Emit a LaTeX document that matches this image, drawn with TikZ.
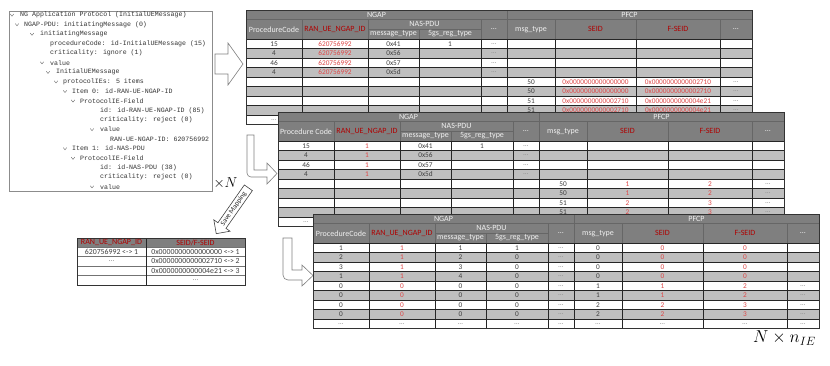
\documentclass[tikz,border=0pt]{standalone}
\usepackage{fontspec}
\setmainfont{Carlito}
\newfontfamily\treefont{Liberation Mono}
\usetikzlibrary{shapes.arrows}

\definecolor{hdrgray}{RGB}{127,127,127}
\definecolor{rowgray}{RGB}{191,191,191}
\definecolor{hdrred}{RGB}{176,0,0}
\definecolor{valred}{RGB}{222,72,72}
\definecolor{arrowgray}{RGB}{128,128,128}

\newcommand{\etcdots}{\textcolor{black!45}{\dots}}

\tikzset{
  htxt/.style={font=\fontsize{8}{9}\selectfont, text=white!94!black, inner sep=0pt},
  hred/.style={htxt, text=hdrred},
  dtxt/.style={font=\fontsize{7.3}{8}\selectfont, text=black!75, inner sep=0pt},
  dred/.style={dtxt, text=valred},
  mtxt/.style={font=\fontsize{7.8}{8}\selectfont, text=black!75, inner sep=0pt},
  gridline/.style={draw=black!85, line width=0.5pt},
  hdrline/.style={draw=black!60, line width=0.5pt},
  outline/.style={draw=black!80, line width=0.8pt},
  treetxt/.style={font=\treefont\fontsize{6.6}{7}\selectfont, text=black!80, anchor=west, inner sep=0pt},
  chev/.style={draw=black!60, line width=0.4pt},
  blockarrow/.style={draw=arrowgray, fill=white, line width=0.6pt},
  bigmath/.style={inner sep=0pt}
}

% frame, header and row shading of one capture table
\newcommand{\tabframe}[1]{%
  \fill[white] (0,0) rectangle (506,114.5);
  \foreach \k in {1,3,5,7}
    \fill[rowgray] (0,29+9.5*\k) rectangle (506,38.5+9.5*\k);
  \fill[hdrgray] (0,0) rectangle (506,29);
  \foreach \k in {0,...,8}
    \draw[gridline] (0,29+9.5*\k) -- (506,29+9.5*\k);
  \foreach \c in {56,122,173,235,261,309,390,474}
    \draw[gridline] (\c,29) -- (\c,114.5);
  \draw[hdrline] (0,9.5) -- (506,9.5) (122,19) -- (235,19)
    (261,0) -- (261,29) (173,19) -- (173,29);
  \foreach \c in {56,122,235,309,390,474}
    \draw[hdrline] (\c,9.5) -- (\c,29);
  \draw[outline] (0,0) rectangle (506,114.5);
  \node[htxt] (\tn-ngap) at (130.5,4.75) {NGAP};
  \node[htxt] (\tn-pfcp) at (383.5,4.75) {PFCP};
  \node[htxt] (\tn-pc) at (28,19.25) {#1};
  \node[hred] (\tn-ran) at (89,19.25) {RAN\_UE\_NGAP\_ID};
  \node[htxt] (\tn-nas) at (178.5,14.25) {NAS-PDU};
  \node[htxt] (\tn-mt) at (147.5,24) {message\_type};
  \node[htxt] (\tn-gs) at (204,24) {5gs\_reg\_type};
  \node[htxt] (\tn-nd) at (248,19.25) {\dots};
  \node[htxt] (\tn-msg) at (285,19.25) {msg\_type};
  \node[hred] (\tn-seid) at (349.5,19.25) {SEID};
  \node[hred] (\tn-fseid) at (432,19.25) {F-SEID};
  \node[htxt] (\tn-pd) at (490,19.25) {\dots};
}

% the nine cells of data row \k
\newcommand{\rowcells}{%
  \node[dtxt] (\tn-\k-a) at (28,33.75+9.5*\k) {\pc};
  \node[dred] (\tn-\k-b) at (89,33.75+9.5*\k) {\ran};
  \node[dtxt] (\tn-\k-c) at (147.5,33.75+9.5*\k) {\mt};
  \node[dtxt] (\tn-\k-d) at (204,33.75+9.5*\k) {\gs};
  \node[dtxt] (\tn-\k-e) at (248,33.75+9.5*\k) {\nd};
  \node[dtxt] (\tn-\k-f) at (285,33.75+9.5*\k) {\msg};
  \node[dred] (\tn-\k-g) at (349.5,33.75+9.5*\k) {\se};
  \node[dred] (\tn-\k-h) at (432,33.75+9.5*\k) {\fs};
  \node[dtxt] (\tn-\k-i) at (490,33.75+9.5*\k) {\pd};
}

\begin{document}
\begin{tikzpicture}[x=1pt, y=-1pt]

\useasboundingbox (0,0) rectangle (830,365);
\fill[white] (0,0) rectangle (830,365);

% Decoded message tree
\draw[draw=black!45, fill=white] (9,11) rectangle (212,191);
\foreach \i/\tx/\txt in {
    0/20/NG Application Protocol (InitialUEMessage),
    1/24/NGAP-PDU: initiatingMessage (0),
    2/40/initiatingMessage,
    3/50/procedureCode: id-InitialUEMessage (15),
    4/50/criticality: ignore (1),
    5/50/value,
    6/56/InitialUEMessage,
    7/63/protocolIEs: 5 items,
    8/72/Item 0: id-RAN-UE-NGAP-ID,
    9/80/ProtocolIE-Field,
    10/100/id: id-RAN-UE-NGAP-ID (85),
    11/100/criticality: reject (0),
    12/100/value,
    13/110/RAN-UE-NGAP-ID: 620756992,
    14/72/Item 1: id-NAS-PDU,
    15/80/ProtocolIE-Field,
    16/100/id: id-NAS-PDU (38),
    17/100/criticality: reject (0),
    18/100/value}
  \node[treetxt] (tree\i) at (\tx,15+9.54*\i) {\txt};
\foreach \i/\cx in {0/12,1/17,2/32,5/42,6/48,7/56,8/65,9/73,12/92,14/65,15/73,18/92}
  \draw[chev] (\cx-1.8,14+9.54*\i) -- (\cx,16.2+9.54*\i) -- (\cx+1.8,14+9.54*\i);

\node[bigmath] (timesn) at (225.5,183) {\fontsize{15}{16}\selectfont$\times N$};

% Block arrows
\draw[blockarrow] (215,54) -- (228,54) -- (228,43) -- (243,64) -- (228,85)
  -- (228,74) -- (215,74) -- cycle;
\draw[blockarrow] (247,135) -- (254,135) -- (254,170) -- (267,170) -- (267,163)
  -- (277,173.5) -- (267,184) -- (267,177) -- (251,177)
  .. controls (248.8,177) and (247,175.2) .. (247,173) -- cycle;
\draw[blockarrow] (283,238) -- (292,238) -- (292,270) -- (302,270) -- (302,265)
  -- (313,275.5) -- (302,286) -- (302,280) -- (288,280)
  .. controls (285.2,280) and (283,277.8) .. (283,275) -- cycle;

\node[single arrow, draw=black!75, fill=white, line width=0.6pt,
  shape border rotate=180, rotate=55, anchor=tip,
  single arrow head extend=5pt, minimum height=56pt, inner sep=1.6pt,
  font=\fontsize{7}{8}\selectfont, text=black!85] (savemap) at (216,234) {Save Mapping};

% Mapping table
\begin{scope}[shift={(77,238)}]
  \fill[white] (0,0) rectangle (168,47);
  \fill[hdrgray] (0,0) rectangle (168,9);
  \foreach \y in {9,18.5,28,37.5}
    \draw[draw=black!55, line width=0.4pt] (0,\y) -- (168,\y);
  \draw[gridline] (69,0) -- (69,47);
  \draw[outline] (0,0) rectangle (168,47);
  \node[hred] (mapran) at (34.5,4.5) {RAN\_UE\_NGAP\_ID};
  \node[hred] (mapseid) at (118.5,4.5) {SEID/F-SEID};
  \foreach \k/\l/\r in {
      0/620756992 <-> 1/0x0000000000000000 <-> 1,
      1/\etcdots/0x0000000000002710 <-> 2,
      2//0x0000000000004e21 <-> 3,
      3//\etcdots}{
    \node[mtxt] (mapl\k) at (34.5,13.75+9.5*\k) {\l};
    \node[mtxt] (mapr\k) at (118.5,13.75+9.5*\k) {\r};
  }
\end{scope}

% Table 1: raw values
\begin{scope}[shift={(246,10)}]
  \def\tn{ta}
  \tabframe{ProcedureCode}
  \foreach \k/\pc/\ran/\mt/\gs/\nd/\msg/\se/\fs/\pd in {
      0/15/620756992/0x41/1/\etcdots////,
      1/4/620756992/0x56//\etcdots////,
      2/46/620756992/0x57//\etcdots////,
      3/4/620756992/0x5d//\etcdots////,
      4//////50/0x0000000000000000/0x0000000000002710/\etcdots,
      5//////50/0x0000000000000000/0x0000000000002710/\etcdots,
      6//////51/0x0000000000002710/0x0000000000004e21/\etcdots,
      7//////51/0x0000000000002710/0x0000000000004e21/\etcdots,
      8/\etcdots////////}
    {\rowcells}
\end{scope}

% Table 2: identifiers replaced by mapping
\begin{scope}[shift={(278,112)}]
  \def\tn{tb}
  \tabframe{Procedure Code}
  \foreach \k/\pc/\ran/\mt/\gs/\nd/\msg/\se/\fs/\pd in {
      0/15/1/0x41/1/\etcdots////,
      1/4/1/0x56//\etcdots////,
      2/46/1/0x57//\etcdots////,
      3/4/1/0x5d//\etcdots////,
      4//////50/1/2/\etcdots,
      5//////50/1/2/\etcdots,
      6//////51/2/3/\etcdots,
      7//////51/2/3/\etcdots,
      8/\etcdots////////}
    {\rowcells}
\end{scope}

% Table 3: encoded matrix
\begin{scope}[shift={(313,214)}]
  \def\tn{tc}
  \tabframe{ProcedureCode}
  \foreach \k/\pc/\ran/\mt/\gs/\nd/\msg/\se/\fs/\pd in {
      0/1/1/1/1/\etcdots/0/0/0/,
      1/2/1/2/0/\etcdots/0/0/0/,
      2/3/1/3/0/\etcdots/0/0/0/,
      3/1/1/4/0/\etcdots/0/0/0/,
      4/0/0/0/0/\etcdots/1/1/2/\etcdots,
      5/0/0/0/0/\etcdots/1/1/2/\etcdots,
      6/0/0/0/0/\etcdots/2/2/3/\etcdots,
      7/0/0/0/0/\etcdots/2/2/3/\etcdots,
      8/\etcdots/\etcdots/\etcdots/\etcdots/\etcdots/\etcdots/\etcdots/\etcdots/\etcdots}
    {\rowcells}
\end{scope}

\node[bigmath] (nnie) at (784.5,338) {\fontsize{18.5}{20}\selectfont$N\times n_{IE}$};

\end{tikzpicture}
\end{document}
